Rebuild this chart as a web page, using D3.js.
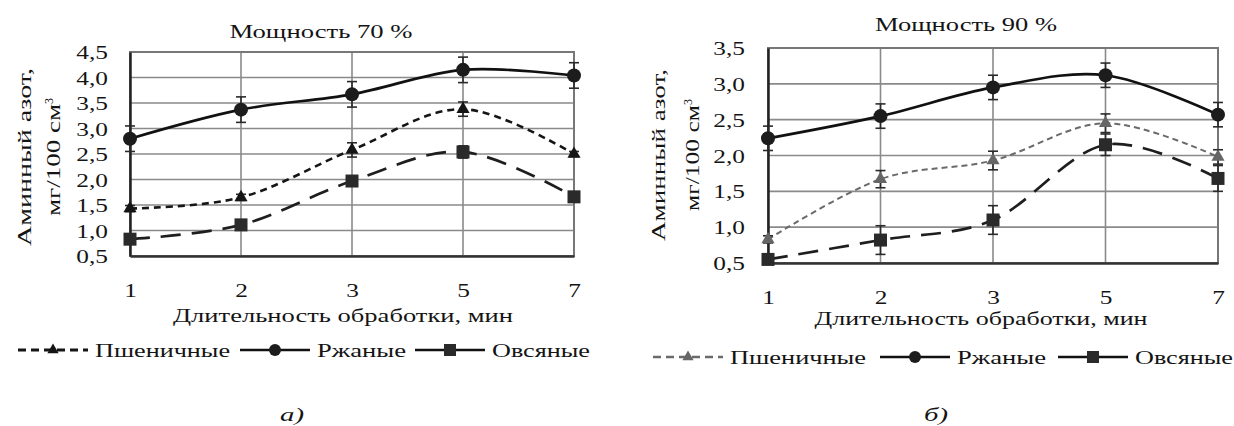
<!DOCTYPE html>
<html><head><meta charset="utf-8">
<script src="https://cdn.jsdelivr.net/npm/d3@7"></script>
<style>
body{margin:0;background:#fff}
text{font-family:"Liberation Serif","Times New Roman",serif;fill:#141414}
</style>
</head><body>
<svg id="c" width="1234" height="426"></svg>
<script>
// ---------- data ----------
const categories = ["1", "2", "3", "5", "7"];
const seriesNames = ["Пшеничные", "Ржаные", "Овсяные"];
const titles = ["Мощность 70 %", "Мощность 90 %"];
const xTitle = "Длительность обработки, мин";
const yTitleLine1 = "Аминный азот,";
const yTitleLine2 = "мг/100 см";
const yTitleSup = "3";
const panelLabels = ["а)", "б)"];

// panel а) — power 70 %
const yTicks70 = [0.5, 1.0, 1.5, 2.0, 2.5, 3.0, 3.5, 4.0, 4.5];
const wheat70 = [1.43, 1.65, 2.58, 3.38, 2.50];
const rye70   = [2.80, 3.37, 3.67, 4.15, 4.04];
const oat70   = [0.83, 1.11, 1.97, 2.54, 1.66];
const wheat70Err = [0.06, 0.06, 0.14, 0.14, 0.05];
const rye70Err   = [0.25, 0.25, 0.25, 0.25, 0.25];
const oat70Err   = [0.05, 0.05, 0.06, 0.12, 0.05];

// panel б) — power 90 %
const yTicks90 = [0.5, 1.0, 1.5, 2.0, 2.5, 3.0, 3.5];
const wheat90 = [0.83, 1.67, 1.93, 2.45, 1.98];
const rye90   = [2.24, 2.55, 2.95, 3.12, 2.57];
const oat90   = [0.55, 0.82, 1.10, 2.15, 1.68];
const wheat90Err = [0.05, 0.12, 0.13, 0.13, 0.10];
const rye90Err   = [0.17, 0.17, 0.17, 0.17, 0.17];
const oat90Err   = [0.05, 0.20, 0.20, 0.15, 0.18];

// ---------- drawing ----------
const svg = d3.select("#c");
const fmt = v => d3.format(".1f")(v).replace(".", ",");
const FS = 19.5;
const SX = 1.3; // horizontal stretch of small texts

const panels = [
  {title: titles[0], yTicks: yTicks70, data: [wheat70, rye70, oat70], errs: [wheat70Err, rye70Err, oat70Err],
   label: panelLabels[0], box: {x0: 130, x1: 574, y0: 52, y1: 256},
   titleX: 321, titleY: 31, titleW: 183, tickRight: 108, xTickY: 290, xTitleX: 343, xTitleY: 315, xTitleW: 340,
   legendY: 350, legendX: [18, 240, 415], legendW: [135, 89, 98],
   yTitleX: [24, 53], yTitleY: 157, yTitleW: [178, 120], labelX: 292, labelY: 414,
   wheatColor: "#151515", wheatDash: "7,5", wheatW: 2.6, wheatMarker: "#151515"},
  {title: titles[1], yTicks: yTicks90, data: [wheat90, rye90, oat90], errs: [wheat90Err, rye90Err, oat90Err],
   label: panelLabels[1], box: {x0: 768, x1: 1218, y0: 48, y1: 263},
   titleX: 966, titleY: 24, titleW: 182, tickRight: 745, xTickY: 297, xTitleX: 981, xTitleY: 318, xTitleW: 333,
   legendY: 357, legendX: [653, 880, 1058], legendW: [136, 89, 98],
   yTitleX: [658, 692], yTitleY: 155, yTitleW: [172, 114], labelX: 936, labelY: 414,
   wheatColor: "#6a6a6a", wheatDash: "6,4", wheatW: 2.0, wheatMarker: "#666"}
];

const curve = d3.curveCardinal.tension(0);

function marker(g, type, x, y, color, s) {
  if (type === 0) {
    g.append("path").attr("d", d3.symbol(d3.symbolTriangle, s.tri)()).attr("transform", `translate(${x},${y})`).attr("fill", color);
  } else if (type === 1) {
    g.append("circle").attr("cx", x).attr("cy", y).attr("r", s.r).attr("fill", "#1c1c1c");
  } else {
    g.append("rect").attr("x", x - s.sq / 2).attr("y", y - s.sq / 2).attr("width", s.sq).attr("height", s.sq).attr("fill", "#2a2a2a");
  }
}

panels.forEach(p => {
  const g = svg.append("g");
  const x = d3.scalePoint().domain(categories).range([p.box.x0, p.box.x1]);
  const y = d3.scaleLinear().domain([p.yTicks[0], p.yTicks[p.yTicks.length - 1]]).range([p.box.y1, p.box.y0]);

  // gridlines
  g.append("g").selectAll("line").data(p.yTicks).join("line")
    .attr("x1", p.box.x0).attr("x2", p.box.x1).attr("y1", d => y(d)).attr("y2", d => y(d))
    .attr("stroke", "#8a8a8a").attr("stroke-width", 1.6);
  g.append("g").selectAll("line").data(categories).join("line")
    .attr("x1", d => x(d)).attr("x2", d => x(d)).attr("y1", p.box.y0).attr("y2", p.box.y1)
    .attr("stroke", "#8a8a8a").attr("stroke-width", 1.6);
  // frame
  g.append("rect").attr("x", p.box.x0).attr("y", p.box.y0).attr("width", p.box.x1 - p.box.x0).attr("height", p.box.y1 - p.box.y0)
    .attr("fill", "none").attr("stroke", "#777").attr("stroke-width", 2);

  // axes
  const yAxis = g.append("g").attr("transform", `translate(${p.box.x0},0)`)
    .call(d3.axisLeft(y).tickValues(p.yTicks).tickFormat(fmt).tickSize(0).tickPadding(0));
  yAxis.select(".domain").attr("stroke", "#222").attr("stroke-width", 2.5);
  yAxis.selectAll("text").attr("font-size", FS).attr("font-family", null).attr("fill", null)
    .attr("x", -(p.box.x0 - p.tickRight) / SX).attr("dy", "0.34em").attr("transform", `scale(${SX},1)`);

  const xAxis = g.append("g").attr("transform", `translate(0,${p.box.y1})`)
    .call(d3.axisBottom(x).tickSize(0).tickPadding(0));
  xAxis.select(".domain").attr("stroke", "#333").attr("stroke-width", 2.5);
  xAxis.selectAll("text").attr("font-size", FS).attr("font-family", null).attr("fill", null)
    .attr("y", p.xTickY - p.box.y1).attr("dy", "0.34em").attr("transform", `scale(${SX},1)`)
    .attr("x", 0);

  // series lines
  const styles = [
    {color: p.wheatColor, dash: p.wheatDash, w: p.wheatW},
    {color: "#111", dash: null, w: 2.7},
    {color: "#1e1e1e", dash: "20,11", w: 2.7}
  ];
  const line = d3.line().x((d, i) => x(categories[i])).y(d => y(d)).curve(curve);
  [0, 2, 1].forEach(si => {
    const st = styles[si];
    g.append("path").datum(p.data[si]).attr("d", line)
      .attr("fill", "none").attr("stroke", st.color).attr("stroke-width", st.w)
      .attr("stroke-dasharray", st.dash);
    p.data[si].forEach((v, i) => {
      const e = p.errs[si][i];
      const cx = x(categories[i]);
      const eb = g.append("g").attr("stroke", "#2a2a2a").attr("stroke-width", 1.6);
      eb.append("line").attr("x1", cx).attr("x2", cx).attr("y1", y(v - e)).attr("y2", y(v + e));
      eb.append("line").attr("x1", cx - 5).attr("x2", cx + 5).attr("y1", y(v - e)).attr("y2", y(v - e));
      eb.append("line").attr("x1", cx - 5).attr("x2", cx + 5).attr("y1", y(v + e)).attr("y2", y(v + e));
    });
    p.data[si].forEach((v, i) => marker(g, si, x(categories[i]), y(v), p.wheatMarker, {tri: 75, r: 7, sq: 13}));
  });

  // title
  g.append("text").attr("x", p.titleX).attr("y", p.titleY).attr("dy", "0.34em")
    .attr("text-anchor", "middle").attr("font-size", FS).attr("textLength", p.titleW)
    .attr("lengthAdjust", "spacingAndGlyphs").text(p.title);
  // x title
  g.append("text").attr("x", p.xTitleX).attr("y", p.xTitleY).attr("dy", "0.34em")
    .attr("text-anchor", "middle").attr("font-size", FS).attr("textLength", p.xTitleW)
    .attr("lengthAdjust", "spacingAndGlyphs").text(xTitle);
  // y title (rotated)
  g.append("text").attr("transform", `translate(${p.yTitleX[0]},${p.yTitleY}) rotate(-90)`).attr("dy", "0.34em")
    .attr("text-anchor", "middle").attr("font-size", FS).attr("textLength", p.yTitleW[0])
    .attr("lengthAdjust", "spacingAndGlyphs").text(yTitleLine1);
  const t2 = g.append("text").attr("transform", `translate(${p.yTitleX[1]},${p.yTitleY}) rotate(-90)`).attr("dy", "0.34em")
    .attr("text-anchor", "middle").attr("font-size", FS);
  t2.append("tspan").attr("textLength", p.yTitleW[1] - 8).attr("lengthAdjust", "spacingAndGlyphs").text(yTitleLine2);
  t2.append("tspan").attr("font-size", 12).attr("dy", "-0.55em").text(yTitleSup);

  // legend
  const lg = g.append("g");
  seriesNames.forEach((name, si) => {
    const x0 = p.legendX[si], ly = p.legendY, sw = 70;
    const st = styles[si];
    if (si === 0) {
      lg.append("line").attr("x1", x0).attr("x2", x0 + sw).attr("y1", ly).attr("y2", ly)
        .attr("stroke", st.color).attr("stroke-width", p.wheatW + 0.4).attr("stroke-dasharray", "8,5");
    } else {
      lg.append("line").attr("x1", x0).attr("x2", x0 + sw).attr("y1", ly).attr("y2", ly)
        .attr("stroke", "#111").attr("stroke-width", 2.7);
    }
    marker(lg, si, x0 + sw / 2, ly, p.wheatMarker, {tri: 55, r: 6, sq: 12});
    lg.append("text").attr("x", x0 + sw + 7).attr("y", ly).attr("dy", "0.34em").attr("font-size", FS)
      .attr("textLength", p.legendW[si]).attr("lengthAdjust", "spacingAndGlyphs").text(name);
  });

  // panel label
  g.append("text").attr("x", p.labelX).attr("y", p.labelY).attr("dy", "0.34em").attr("text-anchor", "middle")
    .attr("font-size", FS).attr("font-style", "italic").attr("textLength", 24)
    .attr("lengthAdjust", "spacingAndGlyphs").text(p.label);
});
</script>
</body></html>
